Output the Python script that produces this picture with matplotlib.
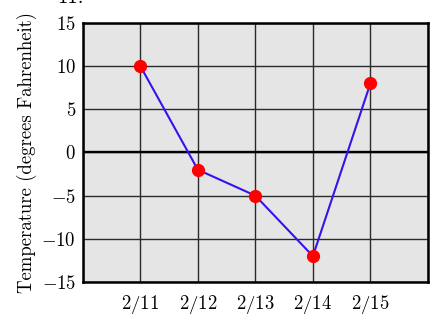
import matplotlib
matplotlib.use("Agg")
import matplotlib.pyplot as plt

# data
dates = ["2/11", "2/12", "2/13", "2/14", "2/15"]
temps = [10, -2, -5, -12, 8]
y_ticks = [-15, -10, -5, 0, 5, 10, 15]

plt.rcParams["font.family"] = "cmr10"
plt.rcParams["mathtext.fontset"] = "cm"
plt.rcParams["axes.formatter.use_mathtext"] = True

fig = plt.figure(figsize=(4.43, 3.22), dpi=100)
ax = fig.add_axes([0.187, 0.124, 0.779, 0.805])
ax.set_facecolor("#e5e5e5")

xs = list(range(1, len(dates) + 1))
ax.set_xlim(0, len(dates) + 1)
ax.set_ylim(-15, 15)

# grid
for gx in range(0, len(dates) + 2):
    ax.axvline(gx, color="#2a2a2a", lw=1.0, zorder=1)
for gy in y_ticks:
    ax.axhline(gy, color="#2a2a2a", lw=1.0, zorder=1)
ax.axhline(0, color="black", lw=1.7, zorder=2)

ax.plot(xs, temps, color="#3a10f0", lw=1.5, zorder=3)
ax.plot(xs, temps, "o", color="#ff0000", ms=8.5, zorder=4)

ax.set_xticks(xs)
ax.set_xticklabels([f"${d}$" for d in dates])
ax.set_yticks(y_ticks)
ax.tick_params(length=0, labelsize=13.5, pad=5)
ax.tick_params(axis="x", pad=8)
for s in ax.spines.values():
    s.set_linewidth(1.8)

ax.set_ylabel("Temperature (degrees Fahrenheit)", fontsize=13.5, labelpad=3)

fig.text(0.13, 1.005, "11.", fontsize=15, fontweight="bold", va="center")

fig.savefig("out.png", dpi=100)
